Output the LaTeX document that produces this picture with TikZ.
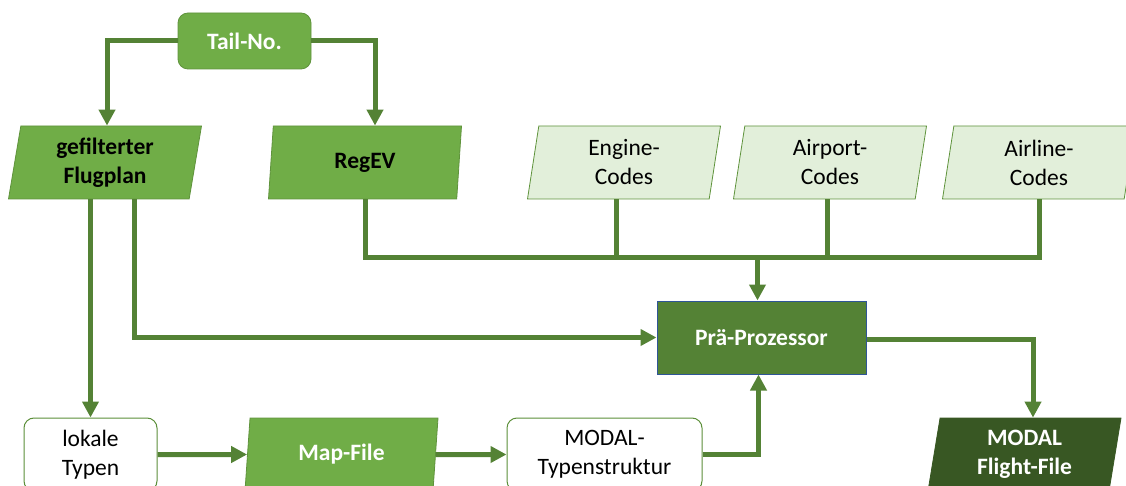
\documentclass[tikz,border=0pt]{standalone}
\usepackage{fontspec}
\setmainfont{Carlito}
\usetikzlibrary{shapes.geometric,arrows.meta}
\definecolor{gmid}{HTML}{70AD47}
\definecolor{gline}{HTML}{548235}
\definecolor{glight}{HTML}{E2EFDA}
\definecolor{gdark}{HTML}{385723}
\definecolor{bframe}{HTML}{2F5597}

\begin{document}
\begin{tikzpicture}[x=1pt,y=-1pt,
  every node/.style={font=\fontsize{23.5}{29}\selectfont, align=center, inner sep=0pt},
  para/.style={trapezium, trapezium left angle=76, trapezium right angle=104,
    trapezium stretches body, minimum width=193, minimum height=73, line width=0.8pt},
  darkpara/.style={para, fill=gmid, draw=gline!60!gmid},
  lightpara/.style={para, fill=glight, draw=gline!60!gmid},
  roundbox/.style={rectangle, rounded corners=10pt, minimum height=73, fill=white, draw=gline!70!gmid, line width=1pt},
  whitebold/.style={text=white, font=\fontsize{23.5}{29}\selectfont\bfseries},
  ln/.style={draw=gline, line width=5pt},
  arr/.style={ln, -{Triangle[length=16pt,width=16pt]}}
]
\useasboundingbox (0,0) rectangle (1126,486);
\clip (0,0) rectangle (1126,486);

% sources
\node[rectangle, rounded corners=10pt, minimum width=133, minimum height=56,
      fill=gmid, draw=gline!60!gmid, line width=0.8pt, whitebold] (tail) at (244.5,41) {Tail-No.};
\node[darkpara, font=\fontsize{23.5}{29}\selectfont\bfseries] (flug) at (105,162.5) {gefilterter\\Flugplan};
\node[darkpara, font=\fontsize{23.5}{29}\selectfont\bfseries] (reg) at (365,162.5) {RegEV};
\node[lightpara] (eng) at (624,162.5) {Engine-\\Codes};
\node[lightpara] (air) at (830,162.5) {Airport-\\Codes};
\node[lightpara] (airl) at (1039,162.5) {Airline-\\Codes};

% processing
\node[rectangle, minimum width=209, minimum height=73, fill=gline, draw=bframe,
      line width=1pt, whitebold] (pre) at (761.5,337.5) {Prä-Prozessor};

% bottom row
\node[roundbox, minimum width=133] (lok) at (90.5,454.5) {lokale\\Typen};
\node[darkpara, whitebold] (map) at (341.5,454.5) {Map-File};
\node[roundbox, minimum width=195] (mts) at (604.5,454.5) {MODAL-\\Typenstruktur};
\node[para, fill=gdark, draw=gdark, whitebold] (mff) at (1024.5,454.5) {MODAL\\Flight-File};

% helper points
\coordinate (bus) at (0,257);
\coordinate (tailL) at ([xshift=2pt]flug.north);
\coordinate (tailR) at ([xshift=10pt]reg.north);
\coordinate (engD) at ([xshift=-8pt]eng.south);
\coordinate (airD) at ([xshift=-3pt]air.south);
\coordinate (preN) at ([xshift=-4pt]pre.north);
\coordinate (preS) at ([xshift=-3pt]pre.south);
\coordinate (flugR) at ([xshift=29pt]flug.south);
\coordinate (preE) at ([yshift=-2pt]pre.east);
\coordinate (mffN) at ([xshift=8.5pt]mff.north);

% connectors
\draw[arr] (tail.west) -| (tailL);
\draw[arr] (tail.east) -| (tailR);
\draw[ln] (reg.south) -- (reg.south |- bus) -- (airl.south |- bus) -- (airl.south);
\draw[ln] (engD) -- (engD |- bus);
\draw[ln] (airD) -- (airD |- bus);
\draw[arr] (preN |- bus) -- (preN);
\draw[arr] (flug.south -| lok.north) -- (lok.north);
\draw[arr] (flugR) |- (pre.west);
\draw[arr] (lok.east) -- (map.west);
\draw[arr] (map.east) -- (mts.west);
\draw[arr] (mts.east) -| (preS);
\draw[arr] (preE) -| (mffN);
\end{tikzpicture}
\end{document}
